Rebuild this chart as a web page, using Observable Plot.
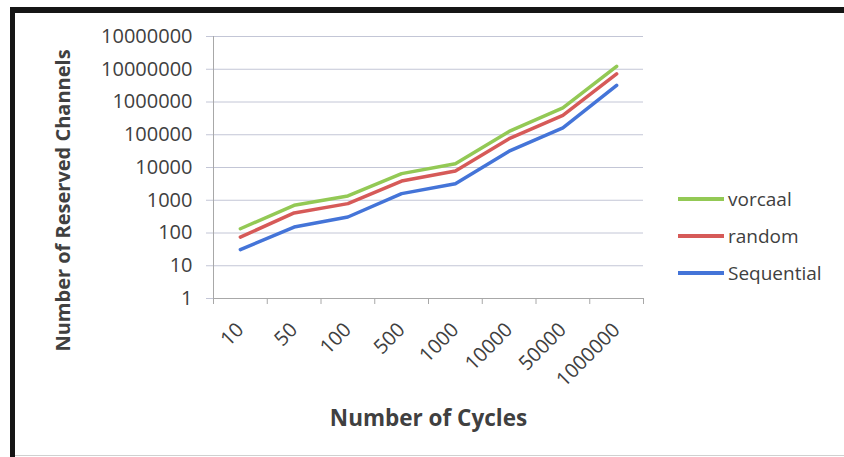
<!DOCTYPE html>
<html><head><meta charset="utf-8">
<script src="https://cdn.jsdelivr.net/npm/d3@7"></script>
<script src="https://cdn.jsdelivr.net/npm/@observablehq/plot@0.6"></script>
<style>
body{margin:0;background:#fff;}
#chart{position:relative;width:844px;height:457px;overflow:hidden;font-family:"Open Sans",sans-serif;background:#fff;}
#chart svg{position:absolute;left:0;top:0;}
.bl{position:absolute;left:10px;top:7px;width:5px;height:460px;background:#151515;}
.bt{position:absolute;left:10px;top:7px;width:840px;height:6px;background:#151515;}
.bb{position:absolute;left:15px;top:455px;width:840px;height:1px;background:#d0d0d0;}
#legend{position:absolute;left:678px;top:180px;}
.item{display:flex;align-items:center;height:37px;font-size:19px;color:#404040;}
.sw{width:46px;height:4px;margin-right:4px;}
</style></head><body>
<div id="chart"><div class="bl"></div><div class="bt"></div><div class="bb"></div><div id="legend"></div></div>
<script>
const cycles = ["10","50","100","500","1000","10000","50000","1000000"];
const vorcaal = [135,700,1350,6500,13000,126000,660000,12300000];
const random = [75,410,790,3850,7800,76000,390000,7200000];
const sequential = [31,152,308,1590,3200,31600,163000,3200000];
const seriesNames = ["vorcaal","random","Sequential"];
const seriesColors = ["#93c955","#d65a58","#4474d8"];
const yTicks = [1,10,100,1000,10000,100000,1000000,10000000,100000000];
const yTickLabels = ["1","10","100","1000","10000","100000","1000000","10000000","10000000"];
const yTitle = "Number of Reserved Channels";
const xTitle = "Number of Cycles";

const seriesValues = [vorcaal, random, sequential];
const rows = [];
[2,1,0].forEach(s => cycles.forEach((c, i) => rows.push({i, cycle: c, value: seriesValues[s][i], series: seriesNames[s]})));
const xBounds = d3.range(cycles.length + 1).map(i => i - 0.5);
const xCenters = d3.range(cycles.length);

const plot = Plot.plot({
  width: 844, height: 457,
  marginLeft: 213, marginRight: 201, marginTop: 36, marginBottom: 159,
  style: {fontFamily: "Open Sans, sans-serif", fontSize: "20px", color: "#404040", background: "transparent", overflow: "visible"},
  x: {type: "linear", domain: [-0.5, cycles.length - 0.5]},
  y: {type: "log", domain: [1, 1e8]},
  color: {domain: seriesNames, range: seriesColors},
  marks: [
    Plot.gridY(yTicks, {stroke: "#c3c6d6", strokeOpacity: 1}),
    Plot.axisY(yTicks, {tickSize: 7, tickPadding: 14, tickFormat: d => yTickLabels[yTicks.indexOf(d)], stroke: "#c3c6d6", label: null, fontSize: 20}),
    Plot.text([yTitle], {frameAnchor: "left", rotate: -90, dx: -150, dy: 33, textAnchor: "middle", fontWeight: "bold", fontSize: 20, fill: "#404040"}),
    Plot.ruleX([-0.5], {stroke: "#a8a8a8"}),
    Plot.ruleY([1], {stroke: "#a8a8a8"}),
    Plot.axisX(xBounds, {tickSize: 6, tickFormat: () => "", stroke: "#a8a8a8", label: null}),
    Plot.axisX(xCenters, {tickSize: 0, tickPadding: 28, tickRotate: -45, tickFormat: i => cycles[i], label: null, fontSize: 20}),
    Plot.axisX([], {label: xTitle, labelAnchor: "center", labelOffset: 127, labelArrow: "none", fontWeight: "bold", fontSize: 22.5}),
    Plot.line(rows, {x: "i", y: "value", stroke: "series", z: "series", strokeWidth: 3.5, strokeLinejoin: "round"})
  ]
});
document.getElementById("chart").insertBefore(plot, document.getElementById("legend"));

const legend = document.getElementById("legend");
seriesNames.forEach((n, k) => {
  const it = document.createElement("div");
  it.className = "item";
  it.innerHTML = `<div class="sw" style="background:${seriesColors[k]}"></div><span>${n}</span>`;
  legend.appendChild(it);
});
</script>
</body></html>
